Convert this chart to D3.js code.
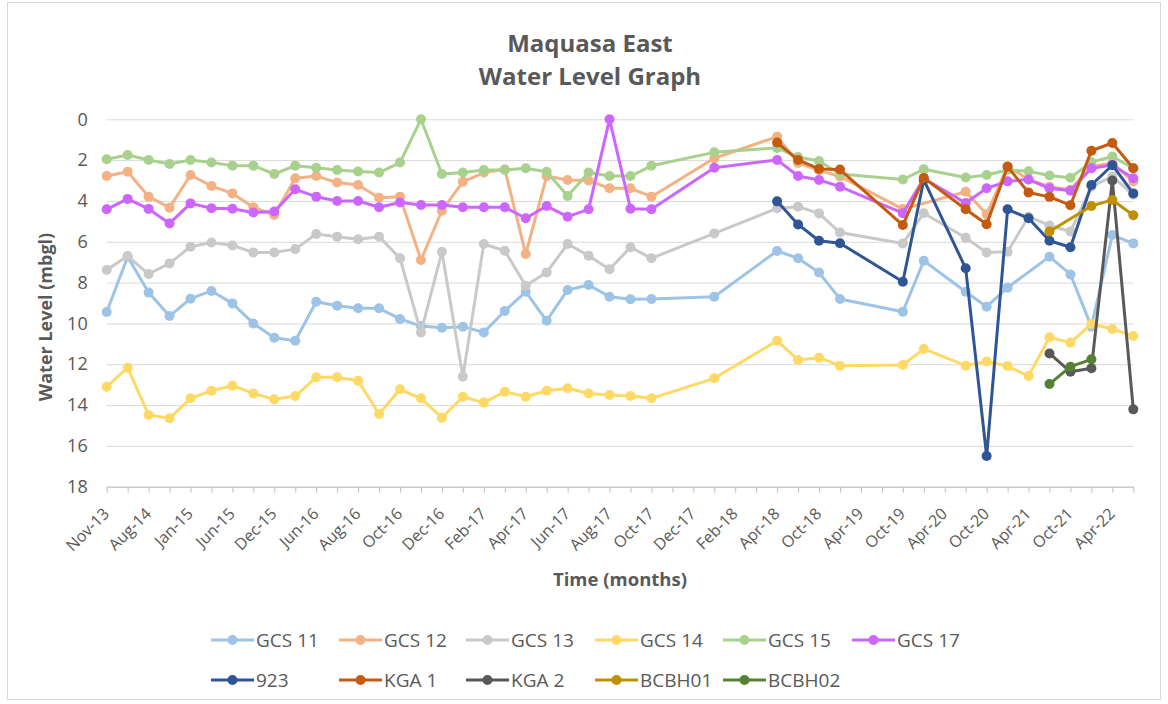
<!DOCTYPE html>
<html>
<head>
<meta charset="utf-8">
<script src="https://cdn.jsdelivr.net/npm/d3@7"></script>
<style>
  body { margin: 0; background: #fff; }
  text { font-family: "Open Sans", sans-serif; fill: #595959; }
</style>
</head>
<body>
<div id="chart"></div>
<script>
const _ = null;

// Sampling months (category axis, every second one is labelled)
const months = ["Nov-13","Feb-14","Aug-14","Nov-14","Jan-15","Mar-15","Jun-15","Sep-15","Dec-15","Mar-16",
  "Jun-16","Jul-16","Aug-16","Sep-16","Oct-16","Nov-16","Dec-16","Jan-17","Feb-17","Mar-17",
  "Apr-17","May-17","Jun-17","Jul-17","Aug-17","Sep-17","Oct-17","Nov-17","Dec-17","Jan-18",
  "Feb-18","Mar-18","Apr-18","Jul-18","Oct-18","Jan-19","Apr-19","Jul-19","Oct-19","Jan-20",
  "Apr-20","Jul-20","Oct-20","Jan-21","Apr-21","Jul-21","Oct-21","Jan-22","Apr-22","Jul-22"];

// Water levels (mbgl), null = not measured
const gcs11 = [9.44,6.73,8.49,9.64,8.79,8.41,9.02,10.0,10.7,10.85,
  8.94,9.13,9.26,9.26,9.78,10.13,10.21,10.16,10.44,9.39,
  8.45,9.87,8.36,8.12,8.69,8.82,8.8,_,_,8.69,
  _,_,6.45,6.81,7.51,8.8,_,_,9.43,6.93,
  _,8.45,9.18,8.25,_,6.73,7.6,10.16,5.67,6.08];
const gcs12 = [2.78,2.57,3.79,4.33,2.73,3.27,3.63,4.31,4.69,2.89,
  2.78,3.1,3.22,3.84,3.79,6.89,4.48,3.06,2.61,2.45,
  6.6,2.78,2.97,3.0,3.38,3.38,3.79,_,_,1.91,
  _,_,0.85,2.14,2.5,2.8,_,_,4.4,_,
  _,3.55,4.65,2.3,2.95,3.3,3.45,2.3,2.15,3.05];
const gcs13 = [7.38,6.7,7.58,7.06,6.24,6.04,6.18,6.52,6.52,6.36,
  5.62,5.75,5.88,5.75,6.81,10.44,6.49,12.61,6.11,6.44,
  8.15,7.5,6.11,6.68,7.35,6.27,6.81,_,_,5.59,
  _,_,4.36,4.28,4.61,5.55,_,_,6.08,4.6,
  _,5.8,6.53,6.49,4.77,5.2,5.5,3.3,2.8,3.7];
const gcs14 = [13.1,12.17,14.49,14.65,13.67,13.3,13.05,13.43,13.72,13.56,
  12.64,12.64,12.81,14.44,13.23,13.67,14.62,13.59,13.88,13.35,
  13.59,13.3,13.18,13.43,13.51,13.56,13.67,_,_,12.69,
  _,_,10.85,11.79,11.68,12.07,_,_,12.04,11.25,
  _,12.07,11.87,12.09,12.58,10.68,10.94,10.03,10.27,10.62];
const gcs15 = [1.96,1.75,1.99,2.19,1.99,2.12,2.27,2.27,2.68,2.27,
  2.37,2.48,2.56,2.61,2.12,0,2.68,2.61,2.48,2.48,
  2.4,2.57,3.76,2.61,2.78,2.78,2.28,_,_,1.62,
  _,_,1.4,1.85,2.04,2.68,_,_,2.95,2.45,
  _,2.85,2.73,2.48,2.55,2.75,2.86,2.1,1.82,2.4];
const gcs17 = [4.41,3.9,4.39,5.1,4.12,4.36,4.38,4.57,4.52,3.43,
  3.79,4.0,4.0,4.31,4.08,4.2,4.2,4.31,4.31,4.31,
  4.85,4.25,4.77,4.41,0,4.38,4.41,_,_,2.37,
  _,_,1.99,2.78,2.97,3.3,_,_,4.6,2.9,
  _,4.1,3.38,3.04,2.95,3.38,3.5,2.4,2.24,2.89];
const bh923 = [_,_,_,_,_,_,_,_,_,_,
  _,_,_,_,_,_,_,_,_,_,
  _,_,_,_,_,_,_,_,_,_,
  _,_,4.02,5.15,5.95,6.07,_,_,7.96,2.97,
  _,7.3,16.5,4.41,4.85,5.95,6.27,3.22,2.25,3.63];
const kga1 = [_,_,_,_,_,_,_,_,_,_,
  _,_,_,_,_,_,_,_,_,_,
  _,_,_,_,_,_,_,_,_,_,
  _,_,1.14,1.99,2.43,2.46,_,_,5.18,2.87,
  _,4.41,5.14,2.32,3.59,3.8,4.21,1.54,1.16,2.4];
const kga2 = [_,_,_,_,_,_,_,_,_,_,
  _,_,_,_,_,_,_,_,_,_,
  _,_,_,_,_,_,_,_,_,_,
  _,_,_,_,_,_,_,_,_,_,
  _,_,_,_,_,11.47,12.37,12.2,3.0,14.21];
const bcbh01 = [_,_,_,_,_,_,_,_,_,_,
  _,_,_,_,_,_,_,_,_,_,
  _,_,_,_,_,_,_,_,_,_,
  _,_,_,_,_,_,_,_,_,_,
  _,_,_,_,_,5.5,_,4.25,3.95,4.7];
const bcbh02 = [_,_,_,_,_,_,_,_,_,_,
  _,_,_,_,_,_,_,_,_,_,
  _,_,_,_,_,_,_,_,_,_,
  _,_,_,_,_,_,_,_,_,_,
  _,_,_,_,_,12.97,12.12,11.76,_,_];

const seriesNames = ["GCS 11","GCS 12","GCS 13","GCS 14","GCS 15","GCS 17","923","KGA 1","KGA 2","BCBH01","BCBH02"];
const seriesValues = [gcs11, gcs12, gcs13, gcs14, gcs15, gcs17, bh923, kga1, kga2, bcbh01, bcbh02];
const seriesColors = ["#9dc3e6","#f4b183","#c9c9c9","#ffd966","#a9d18e","#cc66ff","#2f5597","#c55a11","#595959","#bf9000","#548235"];
const yTicks = [0, 2, 4, 6, 8, 10, 12, 14, 16, 18];

const W = 1168, H = 704;
const plot = { left: 106.7, right: 1133.3, top: 119.3, bottom: 486.7 };

const svg = d3.select("#chart").append("svg")
  .attr("width", W)
  .attr("height", H);

// chart area border
svg.append("rect")
  .attr("x", 7.5).attr("y", 2.5)
  .attr("width", 1153).attr("height", 697)
  .attr("fill", "none")
  .attr("stroke", "#d9d9d9");

const x = d3.scalePoint().domain(months).range([plot.left, plot.right]);
const y = d3.scaleLinear().domain([0, 18]).range([plot.top, plot.bottom]);

// Y axis + gridlines
const yAxis = svg.append("g")
  .attr("transform", `translate(${plot.left},0)`)
  .call(d3.axisLeft(y).tickValues(yTicks).tickSize(-(plot.right - plot.left)).tickPadding(19));
yAxis.select(".domain").remove();
yAxis.selectAll(".tick line").attr("stroke", "#d9d9d9").attr("stroke-width", 1);
yAxis.selectAll(".tick text").style("font-size", "18px").attr("fill", "#595959");

// X axis
const xAxis = svg.append("g")
  .attr("transform", `translate(0,${plot.bottom})`)
  .call(d3.axisBottom(x).tickSize(6).tickSizeOuter(0)
    .tickFormat((d, i) => i % 2 === 0 ? d : ""));
xAxis.select(".domain").attr("stroke", "#bfbfbf");
xAxis.selectAll(".tick line").attr("stroke", "#bfbfbf");
xAxis.selectAll(".tick text")
  .style("font-size", "16px")
  .attr("fill", "#595959")
  .attr("text-anchor", "end")
  .attr("x", 0).attr("y", 0).attr("dy", 0)
  .attr("transform", "translate(3,28) rotate(-45)");

// Title
svg.append("text")
  .attr("x", 590).attr("y", 52)
  .attr("text-anchor", "middle")
  .style("font-size", "24px").style("font-weight", "bold")
  .text("Maquasa East");
svg.append("text")
  .attr("x", 590).attr("y", 85)
  .attr("text-anchor", "middle")
  .style("font-size", "24px").style("font-weight", "bold")
  .text("Water Level Graph");

// Axis titles
svg.append("text")
  .attr("x", 620).attr("y", 586)
  .attr("text-anchor", "middle")
  .style("font-size", "18.5px").style("font-weight", "bold")
  .text("Time (months)");
svg.append("text")
  .attr("transform", "translate(52,317) rotate(-90)")
  .attr("text-anchor", "middle")
  .style("font-size", "18px").style("font-weight", "bold")
  .text("Water Level (mbgl)");

// Series
const line = d3.line()
  .x(d => x(d.m))
  .y(d => y(d.v));

seriesValues.forEach((vals, k) => {
  const pts = months.map((m, i) => ({ m: m, v: vals[i] })).filter(d => d.v !== null);
  const g = svg.append("g");
  g.append("path")
    .datum(pts)
    .attr("d", line)
    .attr("fill", "none")
    .attr("stroke", seriesColors[k])
    .attr("stroke-width", 3)
    .attr("stroke-linejoin", "round");
  g.selectAll("circle")
    .data(pts)
    .join("circle")
    .attr("cx", d => x(d.m))
    .attr("cy", d => y(d.v))
    .attr("r", 5)
    .attr("fill", seriesColors[k]);
});

// Legend (two rows)
const legendX = [211, 339, 466, 595, 723, 852];
const legendY = [640, 680];
seriesNames.forEach((name, k) => {
  const row = k < 6 ? 0 : 1;
  const col = k < 6 ? k : k - 6;
  const g = svg.append("g")
    .attr("transform", `translate(${legendX[col]},${legendY[row]})`);
  g.append("line")
    .attr("x1", 0).attr("x2", 43)
    .attr("stroke", seriesColors[k])
    .attr("stroke-width", 3);
  g.append("circle")
    .attr("cx", 21.5).attr("r", 5)
    .attr("fill", seriesColors[k]);
  g.append("text")
    .attr("x", 45).attr("y", 7)
    .style("font-size", "19px")
    .text(name);
});
</script>
</body>
</html>
